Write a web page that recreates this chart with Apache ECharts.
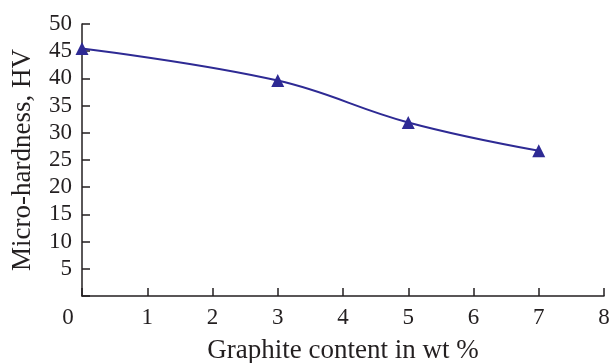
<!DOCTYPE html>
<html>
<head>
<meta charset="utf-8">
<script src="https://cdn.jsdelivr.net/npm/echarts@6/dist/echarts.min.js"></script>
<style>
  html, body { margin: 0; padding: 0; background: #fff; }
  #chart { width: 614px; height: 363px; }
</style>
</head>
<body>
<div id="chart"></div>
<script>
const graphite = [0, 3, 5, 7];
const hardness = [45.5, 39.6, 31.9, 26.7];

const font = 'Liberation Serif';
const ink = '#231f20';
const lineColor = '#2e2a94';

const chart = echarts.init(document.getElementById('chart'));

chart.setOption({
  animation: false,
  grid: { left: 82, right: 10, top: 24, bottom: 67, outerBoundsMode: 'none', containLabel: false },
  xAxis: {
    type: 'value',
    min: 0,
    max: 8,
    interval: 1,
    name: 'Graphite content in wt %',
    nameLocation: 'middle',
    nameGap: 41,
    nameTextStyle: { fontFamily: font, fontSize: 27, color: ink },
    axisLine: { lineStyle: { color: ink, width: 1.5 } },
    axisTick: { inside: true, length: 8, lineStyle: { color: ink, width: 1.5 } },
    axisLabel: {
      fontFamily: font, fontSize: 23, color: ink, margin: 10,
      formatter: v => v === 0 ? '{z|0}' : String(v),
      rich: { z: { fontFamily: font, fontSize: 23, color: ink, padding: [0, 28, 0, 0] } }
    },
    splitLine: { show: false }
  },
  yAxis: {
    type: 'value',
    min: 0,
    max: 50,
    interval: 5,
    name: 'Micro-hardness, HV',
    nameLocation: 'middle',
    nameGap: 46,
    nameTextStyle: { fontFamily: font, fontSize: 27, color: ink },
    axisLine: { show: true, lineStyle: { color: ink, width: 1.5 } },
    axisTick: { show: true, inside: true, length: 8, lineStyle: { color: ink, width: 1.5 } },
    axisLabel: {
      fontFamily: font, fontSize: 23, color: ink, margin: 10,
      formatter: v => v === 0 ? '' : String(v)
    },
    splitLine: { show: false }
  },
  series: [{
    type: 'line',
    data: graphite.map((x, i) => [x, hardness[i]]),
    smooth: 0.4,
    symbol: 'triangle',
    symbolSize: 13,
    itemStyle: { color: lineColor },
    lineStyle: { color: lineColor, width: 2 }
  }]
});
</script>
</body>
</html>
